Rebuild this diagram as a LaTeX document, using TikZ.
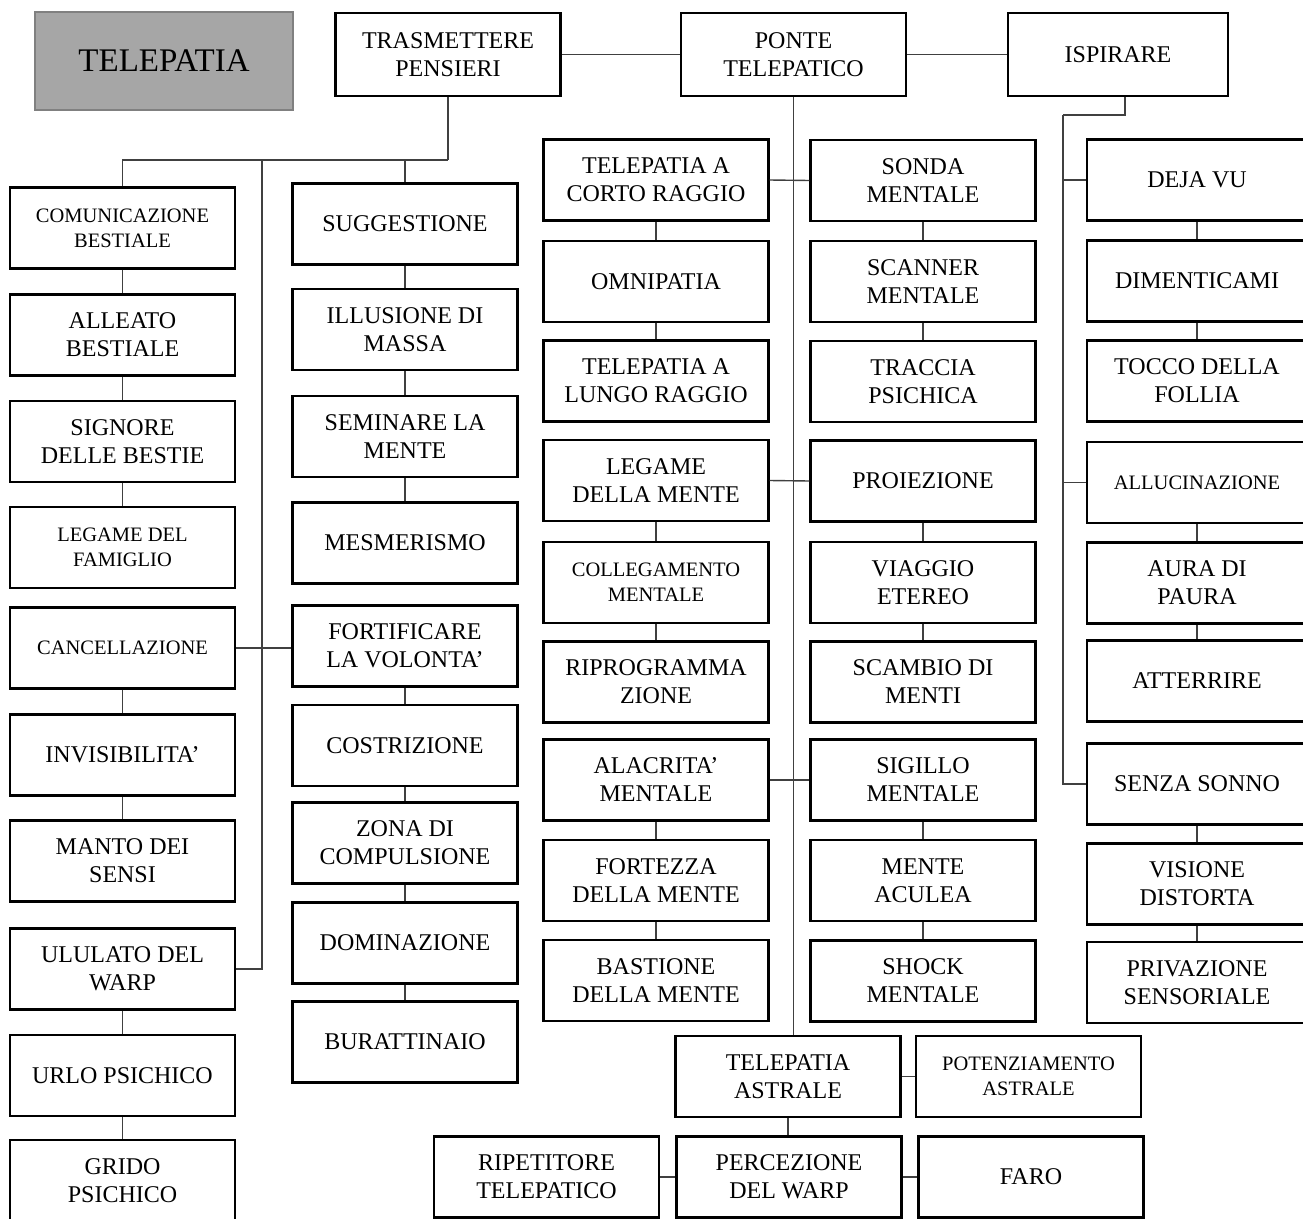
\documentclass[tikz,border=0pt]{standalone}
\usepackage{fontspec}
\setmainfont{Liberation Serif}
\begin{document}
\begin{tikzpicture}[
  x=1pt, y=-1pt,
  skill/.style={draw=black, line width=2.4pt, fill=white, inner sep=0pt,
                minimum width=225pt, minimum height=81pt, align=center,
                font=\fontsize{24}{28}\selectfont},
  small/.style={skill, font=\fontsize{20.5}{25}\selectfont},
  root/.style={draw=black!50, line width=2pt, fill=black!35, inner sep=0pt,
               minimum width=258pt, minimum height=98pt,
               font=\fontsize{33}{38}\selectfont},
  link/.style={draw=black!75, line width=1.4pt},
]
\useasboundingbox (0,0) rectangle (1303,1218);
\clip (0,0) rectangle (1303,1218);
\fill[white] (0,0) rectangle (1303,1218);

% ── Title and top row ──
\node[root] (tele) at (164,61) {TELEPATIA};
\node[skill, minimum height=83pt] (tras) at (448,54.5) {TRASMETTERE\\PENSIERI};
\node[skill, minimum height=83pt] (ponte) at (793.5,54.5) {PONTE\\TELEPATICO};
\node[skill, minimum width=220pt, minimum height=83pt] (isp) at (1118,54.5) {ISPIRARE};

% ── Column 1 ──
\node[small] (comb) at (122.5,228) {COMUNICAZIONE\\BESTIALE};
\node[skill] (alle) at (122.5,335) {ALLEATO\\BESTIALE};
\node[skill] (sign) at (122.5,441.5) {SIGNORE\\DELLE BESTIE};
\node[small] (famg) at (122.5,547.5) {LEGAME DEL\\FAMIGLIO};
\node[small] (canc) at (122.5,648) {CANCELLAZIONE};
\node[skill] (invi) at (122.5,755) {INVISIBILITA’};
\node[skill] (mant) at (122.5,861) {MANTO DEI\\SENSI};
\node[skill] (ulul) at (122.5,969) {ULULATO DEL\\WARP};
\node[skill] (urlo) at (122.5,1075.5) {URLO PSICHICO};
\node[skill] (grid) at (122.5,1180.5) {GRIDO\\PSICHICO};

% ── Column 2 ──
\node[skill] (sugg) at (405,224) {SUGGESTIONE};
\node[skill] (illu) at (405,329.5) {ILLUSIONE DI\\MASSA};
\node[skill] (semi) at (405,436.5) {SEMINARE LA\\MENTE};
\node[skill] (mesm) at (405,543) {MESMERISMO};
\node[skill] (fort) at (405,646) {FORTIFICARE\\LA VOLONTA’};
\node[skill] (cost) at (405,745.5) {COSTRIZIONE};
\node[skill] (zona) at (405,843) {ZONA DI\\COMPULSIONE};
\node[skill] (domi) at (405,943) {DOMINAZIONE};
\node[skill] (bura) at (405,1042) {BURATTINAIO};

% ── Column 3 ──
\node[skill] (corto) at (656,180) {TELEPATIA A\\CORTO RAGGIO};
\node[skill] (omni) at (656,281.5) {OMNIPATIA};
\node[skill] (lungo) at (656,381) {TELEPATIA A\\LUNGO RAGGIO};
\node[skill] (legm) at (656,480.5) {LEGAME\\DELLA MENTE};
\node[small] (coll) at (656,582.5) {COLLEGAMENTO\\MENTALE};
\node[skill] (ripr) at (656,682) {RIPROGRAMMA\\ZIONE};
\node[skill] (alac) at (656,780) {ALACRITA’\\MENTALE};
\node[skill] (ftzz) at (656,880.5) {FORTEZZA\\DELLA MENTE};
\node[skill] (bast) at (656,980.5) {BASTIONE\\DELLA MENTE};

% ── Column 4 ──
\node[skill] (sonda) at (923,180.5) {SONDA\\MENTALE};
\node[skill] (scan) at (923,281.5) {SCANNER\\MENTALE};
\node[skill] (trac) at (923,381.5) {TRACCIA\\PSICHICA};
\node[skill] (proi) at (923,481) {PROIEZIONE};
\node[skill] (viag) at (923,582.5) {VIAGGIO\\ETEREO};
\node[skill] (scam) at (923,682) {SCAMBIO DI\\MENTI};
\node[skill] (sigi) at (923,780) {SIGILLO\\MENTALE};
\node[skill] (acul) at (923,880.5) {MENTE\\ACULEA};
\node[skill] (shock) at (923,981) {SHOCK\\MENTALE};

% ── Column 5 ──
\node[skill, minimum width=220pt] (deja) at (1197,180) {DEJA VU};
\node[skill, minimum width=220pt] (dime) at (1197,281) {DIMENTICAMI};
\node[skill, minimum width=220pt] (tocc) at (1197,381) {TOCCO DELLA\\FOLLIA};
\node[small, minimum width=220pt] (allu) at (1197,482.5) {ALLUCINAZIONE};
\node[skill, minimum width=220pt] (aura) at (1197,583) {AURA DI\\PAURA};
\node[skill, minimum width=220pt] (atte) at (1197,681) {ATTERRIRE};
\node[skill, minimum width=220pt] (senz) at (1197,784) {SENZA SONNO};
\node[skill, minimum width=220pt] (visi) at (1197,884) {VISIONE\\DISTORTA};
\node[skill, minimum width=220pt] (priv) at (1197,982.5) {PRIVAZIONE\\SENSORIALE};

% ── Bottom ──
\node[skill] (tast) at (788,1076.5) {TELEPATIA\\ASTRALE};
\node[small] (pot) at (1028.5,1076.5) {POTENZIAMENTO\\ASTRALE};
\node[skill] (rip) at (546.5,1177) {RIPETITORE\\TELEPATICO};
\node[skill] (perc) at (789,1177) {PERCEZIONE\\DEL WARP};
\node[skill] (faro) at (1031,1177) {FARO};

% ── Links: top row ──
\draw[link] (tras.east) -- (ponte.west);
\draw[link] (ponte.east) -- (isp.west);

% ── Links: trasmettere pensieri ──
\coordinate (tbus) at (448,160);
\coordinate (lbus) at (262,160);
\draw[link] (tras.south) -- (tbus);
\draw[link] (comb.north) |- (tbus);
\draw[link] (sugg.north) -- (sugg.north |- tbus);
\draw[link] (lbus) |- (ulul.east);
\draw[link] (canc.east) -- (canc.east -| fort.west);

% ── Links: ponte telepatico ──
\draw[link] (ponte.south) -- (ponte.south |- tast.north);
\draw[link] (corto.east) -- (sonda.west);
\draw[link] (legm.east) -- (proi.west);
\draw[link] (alac.east) -- (sigi.west);
\draw[link] (tast.east) -- (pot.west);
\draw[link] (tast.south) -- (tast.south |- perc.north);
\draw[link] (rip.east) -- (perc.west);
\draw[link] (perc.east) -- (faro.west);

% ── Links: ispirare ──
\coordinate (rbus) at (1063,115);
\draw[link] ([xshift=7pt]isp.south) |- (rbus);
\draw[link] (rbus) |- (senz.west);
\draw[link] (deja.west) -- (deja.west -| rbus);
\draw[link] (allu.west) -- (allu.west -| rbus);

% ── Chains ──
\foreach \a/\b in {comb/alle, alle/sign, sign/famg, canc/invi, invi/mant,
                   ulul/urlo, urlo/grid, sugg/illu, illu/semi, semi/mesm,
                   fort/cost, cost/zona, zona/domi, domi/bura,
                   corto/omni, omni/lungo, legm/coll, coll/ripr,
                   alac/ftzz, ftzz/bast, sonda/scan, scan/trac,
                   proi/viag, viag/scam, sigi/acul, acul/shock,
                   deja/dime, dime/tocc, allu/aura, aura/atte,
                   senz/visi, visi/priv}
  \draw[link] (\a.south) -- (\b.north);

\end{tikzpicture}
\end{document}
